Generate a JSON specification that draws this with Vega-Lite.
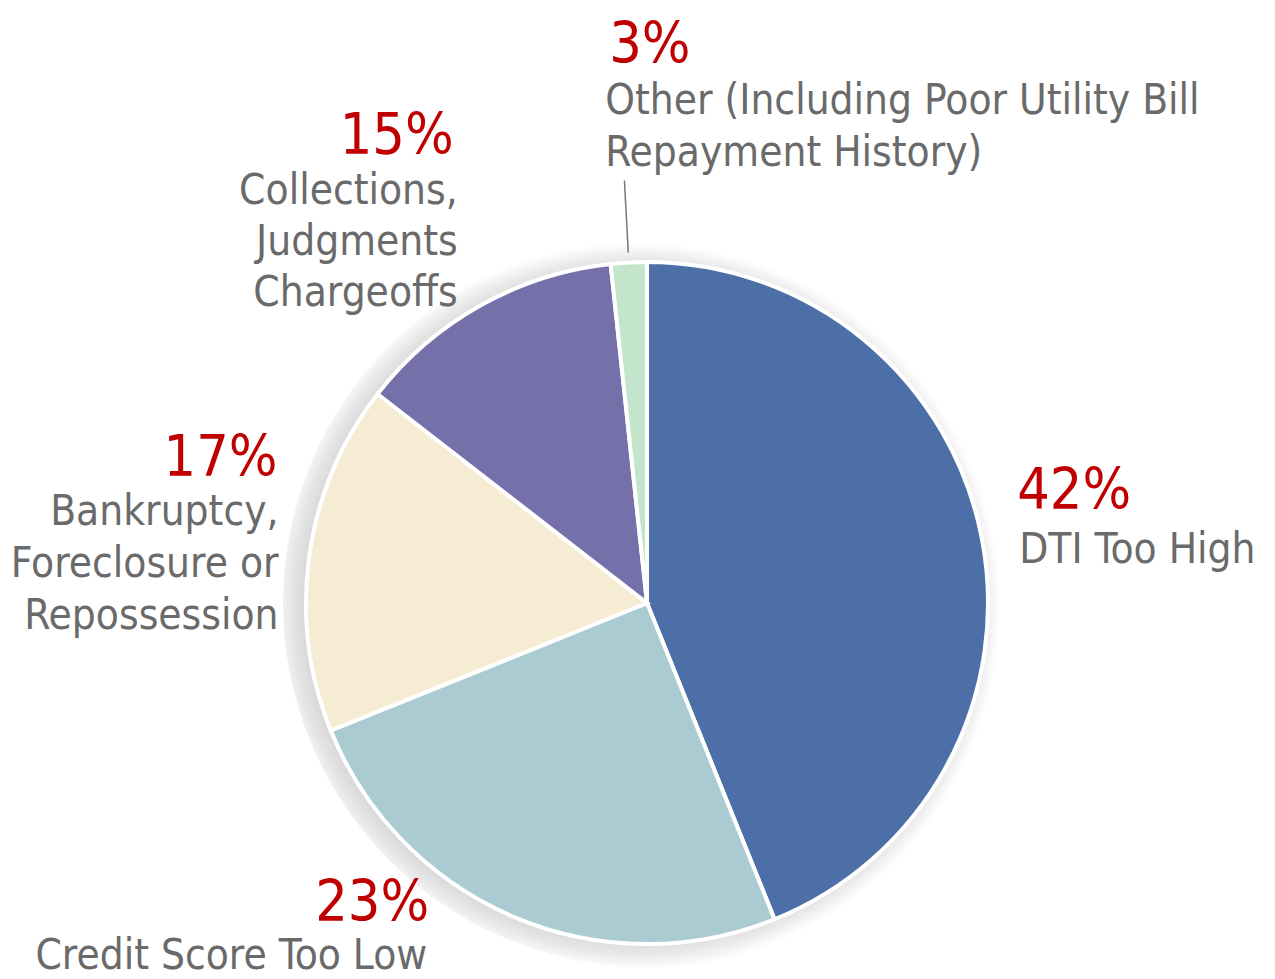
{
  "$schema": "https://vega.github.io/schema/vega-lite/v6.json",
  "autosize": {"type": "none"},
  "width": 1256,
  "height": 752,
  "padding": {"left": 19, "top": 227, "right": 0, "bottom": 0},
  "background": "#ffffff",
  "config": {"view": {"stroke": null}},
  "data": {
    "values": [
      {"idx": 1, "key": "DTI", "pct": "42%", "label": "DTI Too High", "value": 43.9},
      {"idx": 2, "key": "Credit", "pct": "23%", "label": "Credit Score Too Low", "value": 25.0},
      {"idx": 3, "key": "Bankruptcy", "pct": "17%", "label": "Bankruptcy,\nForeclosure or\nRepossession", "value": 16.6},
      {"idx": 4, "key": "Collections", "pct": "15%", "label": "Collections,\nJudgments\nChargeoffs", "value": 12.8},
      {"idx": 5, "key": "Other", "pct": "3%", "label": "Other (Including Poor Utility Bill\nRepayment History)", "value": 1.7}
    ]
  },
  "layer": [
    {
      "mark": {
        "type": "arc",
        "outerRadius": 364,
        "fill": {
          "gradient": "radial",
          "x1": 0.5, "y1": 0.5, "r1": 0,
          "x2": 0.485, "y2": 0.505, "r2": 0.5,
          "stops": [
            {"offset": 0, "color": "#cccccc"},
            {"offset": 0.9, "color": "#d3d3d3"},
            {"offset": 0.95, "color": "#e6e6e6"},
            {"offset": 1, "color": "#ffffff"}
          ]
        }
      },
      "encoding": {
        "theta": {"aggregate": "sum", "field": "value", "type": "quantitative"}
      }
    },
    {
      "mark": {"type": "arc", "outerRadius": 341, "stroke": "#ffffff", "strokeWidth": 4},
      "encoding": {
        "theta": {"field": "value", "type": "quantitative", "stack": true},
        "order": {"field": "idx", "type": "quantitative"},
        "color": {
          "field": "key",
          "type": "nominal",
          "legend": null,
          "scale": {
            "domain": ["DTI", "Credit", "Bankruptcy", "Collections", "Other"],
            "range": ["#4b6fa6", "#aacbd1", "#f6ebd3", "#7670aa", "#c3e5cc"]
          }
        }
      }
    },
    {
      "mark": {"type": "arc", "innerRadius": 351, "outerRadius": 423, "padAngle": 0.5, "fillOpacity": 0, "stroke": "#777777", "strokeWidth": 1.5},
      "encoding": {
        "theta": {"field": "value", "type": "quantitative", "stack": true},
        "order": {"field": "idx", "type": "quantitative"},
        "detail": {"field": "key"},
        "strokeOpacity": {"condition": {"test": "datum.key === 'Other'", "value": 1}, "value": 0}
      }
    },
    {
      "mark": {"type": "text", "radius": 370, "align": "left", "baseline": "alphabetic", "dx": 7, "dy": -24, "font": "DejaVu Sans Condensed, sans-serif", "fontSize": 57, "color": "#c00000"},
      "encoding": {
        "theta": {"field": "value", "type": "quantitative", "stack": true},
        "order": {"field": "idx", "type": "quantitative"},
        "detail": {"field": "key"},
        "text": {"condition": {"test": "datum.key === 'DTI'", "field": "pct"}, "value": ""}
      }
    },
    {
      "mark": {"type": "text", "radius": 370, "align": "left", "baseline": "alphabetic", "dx": 9, "dy": 30, "font": "DejaVu Sans Condensed, sans-serif", "fontSize": 42, "color": "#6a6a6a"},
      "encoding": {
        "theta": {"field": "value", "type": "quantitative", "stack": true},
        "order": {"field": "idx", "type": "quantitative"},
        "detail": {"field": "key"},
        "text": {"condition": {"test": "datum.key === 'DTI'", "field": "label"}, "value": ""}
      }
    },
    {
      "mark": {"type": "text", "radius": 370, "align": "right", "baseline": "alphabetic", "dx": -73, "dy": -22, "font": "DejaVu Sans Condensed, sans-serif", "fontSize": 57, "color": "#c00000"},
      "encoding": {
        "theta": {"field": "value", "type": "quantitative", "stack": true},
        "order": {"field": "idx", "type": "quantitative"},
        "detail": {"field": "key"},
        "text": {"condition": {"test": "datum.key === 'Credit'", "field": "pct"}, "value": ""}
      }
    },
    {
      "mark": {"type": "text", "radius": 370, "align": "right", "baseline": "alphabetic", "dx": -75, "dy": 26, "font": "DejaVu Sans Condensed, sans-serif", "fontSize": 42, "color": "#6a6a6a"},
      "encoding": {
        "theta": {"field": "value", "type": "quantitative", "stack": true},
        "order": {"field": "idx", "type": "quantitative"},
        "detail": {"field": "key"},
        "text": {"condition": {"test": "datum.key === 'Credit'", "field": "label"}, "value": ""}
      }
    },
    {
      "mark": {"type": "text", "radius": 370, "align": "right", "baseline": "alphabetic", "dx": -3, "dy": -76, "font": "DejaVu Sans Condensed, sans-serif", "fontSize": 57, "color": "#c00000"},
      "encoding": {
        "theta": {"field": "value", "type": "quantitative", "stack": true},
        "order": {"field": "idx", "type": "quantitative"},
        "detail": {"field": "key"},
        "text": {"condition": {"test": "datum.key === 'Bankruptcy'", "field": "pct"}, "value": ""}
      }
    },
    {
      "mark": {"type": "text", "radius": 370, "align": "right", "baseline": "alphabetic", "dx": -2, "dy": -27, "lineBreak": "\n", "lineHeight": 52, "font": "DejaVu Sans Condensed, sans-serif", "fontSize": 42, "color": "#6a6a6a"},
      "encoding": {
        "theta": {"field": "value", "type": "quantitative", "stack": true},
        "order": {"field": "idx", "type": "quantitative"},
        "detail": {"field": "key"},
        "text": {"condition": {"test": "datum.key === 'Bankruptcy'", "field": "label"}, "value": ""}
      }
    },
    {
      "mark": {"type": "text", "radius": 370, "align": "right", "baseline": "alphabetic", "dx": -13, "dy": -126, "font": "DejaVu Sans Condensed, sans-serif", "fontSize": 57, "color": "#c00000"},
      "encoding": {
        "theta": {"field": "value", "type": "quantitative", "stack": true},
        "order": {"field": "idx", "type": "quantitative"},
        "detail": {"field": "key"},
        "text": {"condition": {"test": "datum.key === 'Collections'", "field": "pct"}, "value": ""}
      }
    },
    {
      "mark": {"type": "text", "radius": 370, "align": "right", "baseline": "alphabetic", "dx": -9, "dy": -76, "lineBreak": "\n", "lineHeight": 51, "font": "DejaVu Sans Condensed, sans-serif", "fontSize": 42, "color": "#6a6a6a"},
      "encoding": {
        "theta": {"field": "value", "type": "quantitative", "stack": true},
        "order": {"field": "idx", "type": "quantitative"},
        "detail": {"field": "key"},
        "text": {"condition": {"test": "datum.key === 'Collections'", "field": "label"}, "value": ""}
      }
    },
    {
      "mark": {"type": "text", "radius": 370, "align": "left", "baseline": "alphabetic", "dx": -18, "dy": -171, "font": "DejaVu Sans Condensed, sans-serif", "fontSize": 57, "color": "#c00000"},
      "encoding": {
        "theta": {"field": "value", "type": "quantitative", "stack": true},
        "order": {"field": "idx", "type": "quantitative"},
        "detail": {"field": "key"},
        "text": {"condition": {"test": "datum.key === 'Other'", "field": "pct"}, "value": ""}
      }
    },
    {
      "mark": {"type": "text", "radius": 370, "align": "left", "baseline": "alphabetic", "dx": -22, "dy": -120, "lineBreak": "\n", "lineHeight": 52, "font": "DejaVu Sans Condensed, sans-serif", "fontSize": 42, "color": "#6a6a6a"},
      "encoding": {
        "theta": {"field": "value", "type": "quantitative", "stack": true},
        "order": {"field": "idx", "type": "quantitative"},
        "detail": {"field": "key"},
        "text": {"condition": {"test": "datum.key === 'Other'", "field": "label"}, "value": ""}
      }
    }
  ]
}
